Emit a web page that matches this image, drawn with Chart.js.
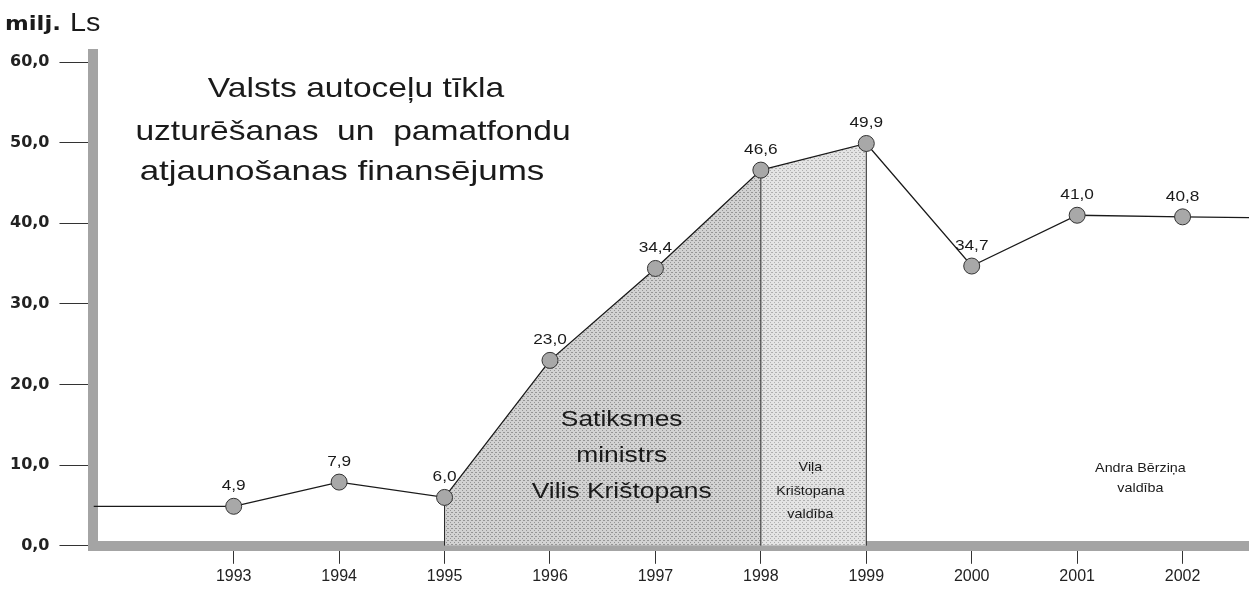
<html><head><script src="https://cdn.jsdelivr.net/npm/chart.js@4.4.3/dist/chart.umd.min.js"></script></head>
<body style="margin:0;background:#fff;overflow:hidden">
<canvas id="c" width="1249" height="601" style="display:block"></canvas>
<script>
// gadi un finansējums (milj. Ls)
years = [1993, 1994, 1995, 1996, 1997, 1998, 1999, 2000, 2001, 2002]
values = [4.9, 7.9, 6.0, 23.0, 34.4, 46.6, 49.9, 34.7, 41.0, 40.8]
yTicks = [0, 10, 20, 30, 40, 50, 60]
// līnija turpinās līdz ass malām
edgeLeft = {x: 1991.67, y: 4.9}
edgeRight = {x: 2002.63, y: 40.7}
// Krištopana periodi
ministerYears = [1995, 1996, 1997, 1998]
govYears = [1998, 1999]

comma = v => v.toFixed(1).replace('.', ',')
ctx0 = document.getElementById('c').getContext('2d')
function stipple(bg, dot) {
  var c = document.createElement('canvas'); c.width = 4; c.height = 4
  var g = c.getContext('2d')
  g.fillStyle = bg; g.fillRect(0, 0, 4, 4)
  g.fillStyle = dot; g.fillRect(0, 0, 1, 1); g.fillRect(2, 2, 1, 1); g.fillRect(3, 0, 1, 1)
  return ctx0.createPattern(c, 'repeat')
}
darkFill = stipple('#d2d2d2', '#959595')
lightFill = stipple('#e4e4e4', '#b0b0b0')

pts = years.map((y, i) => ({x: y, y: values[i]}))
pick = list => list.map(y => ({x: y, y: values[years.indexOf(y)]}))
vline = y => ({data: [{x: y, y: 0}, {x: y, y: values[years.indexOf(y)]}], borderColor: '#222', borderWidth: 1, pointRadius: 0, fill: false, order: 3})

font = 'Liberation Sans, Arial, sans-serif'
// skenētais teksts ir platāks, tāpēc izstiepjam
function wide(c, txt, x, y, k) {
  c.save(); c.translate(x, y); c.scale(k || 1.2, 1); c.fillText(txt, 0, 0); c.restore()
}
textPlugin = {
  id: 'texts',
  afterDraw(chart) {
    var c = chart.ctx, xs = chart.scales.x, ys = chart.scales.y
    c.save()
    c.fillStyle = '#1a1a1a'
    c.textBaseline = 'alphabetic'
    c.textAlign = 'left'
    c.font = 'bold 19px DejaVu Sans'
    wide(c, 'milj.', 5, 30, 1.2)
    c.font = '25px ' + font
    wide(c, 'Ls', 70, 31, 1.15)
    // virsraksts
    c.textAlign = 'center'
    c.font = '28px ' + font
    wide(c, 'Valsts autoceļu tīkla', 356, 97)
    wide(c, 'uzturēšanas  un  pamatfondu', 353, 140)
    wide(c, 'atjaunošanas finansējums', 342, 180, 1.25)
    // vērtību etiķetes
    c.font = '15px ' + font
    pts.forEach(p => {
      wide(c, comma(p.y), xs.getPixelForValue(p.x), ys.getPixelForValue(p.y) - 16, 1.15)
    })
    // paraksti
    c.font = '22px ' + font
    var mx = xs.getPixelForValue(1996.68)
    wide(c, 'Satiksmes', mx, 426)
    wide(c, 'ministrs', mx, 462)
    wide(c, 'Vilis Krištopans', mx, 498)
    c.font = '13px ' + font
    mx = xs.getPixelForValue(1998.47)
    wide(c, 'Viļa', mx, 471, 1.1)
    wide(c, 'Krištopana', mx, 495, 1.1)
    wide(c, 'valdība', mx, 518, 1.1)
    mx = xs.getPixelForValue(2001.6)
    wide(c, 'Andra Bērziņa', mx, 472, 1.1)
    wide(c, 'valdība', mx, 492, 1.1)
    c.restore()
  }
}

new Chart(ctx0, {
  type: 'line',
  data: {
    datasets: [
      {data: pts, borderColor: '#1a1a1a', borderWidth: 1.3, pointRadius: 8, pointHoverRadius: 8,
       pointBackgroundColor: '#a8a8a8', pointBorderColor: '#333', pointBorderWidth: 1, fill: false, order: 1},
      {data: [edgeLeft, pts[0]], borderColor: '#1a1a1a', borderWidth: 1.3, pointRadius: 0, fill: false, order: 2},
      {data: [pts[9], edgeRight], borderColor: '#1a1a1a', borderWidth: 1.3, pointRadius: 0, fill: false, order: 2},
      {data: pick(ministerYears), borderWidth: 0, pointRadius: 0, fill: 'origin', backgroundColor: darkFill, order: 5},
      {data: pick(govYears), borderWidth: 0, pointRadius: 0, fill: 'origin', backgroundColor: lightFill, order: 5},
      vline(1995), vline(1998), vline(1999)
    ]
  },
  options: {
    responsive: false,
    animation: false,
    layout: {autoPadding: false, padding: {left: 0, top: 54, right: 0, bottom: 12}},
    plugins: {legend: {display: false}, tooltip: {enabled: false}},
    scales: {
      x: {
        type: 'linear', min: edgeLeft.x, max: edgeRight.x,
        afterBuildTicks: a => { a.ticks = years.map(v => ({value: v})) },
        ticks: {callback: v => String(v), color: '#222', font: {family: font, size: 16}, padding: 3, maxRotation: 0, autoSkip: false},
        grid: {drawOnChartArea: false, tickLength: 18, color: '#333'},
        border: {color: '#a4a4a4', width: 10}
      },
      y: {
        min: 0, max: 61,
        afterBuildTicks: a => { a.ticks = yTicks.map(v => ({value: v})) },
        ticks: {callback: v => comma(v), color: '#222', font: {family: 'DejaVu Sans', size: 16, weight: 'bold'}, padding: 10},
        grid: {drawOnChartArea: false, tickLength: 34, color: '#333'},
        border: {color: '#a4a4a4', width: 10}
      }
    }
  },
  plugins: [textPlugin]
})
</script>
</body></html>
